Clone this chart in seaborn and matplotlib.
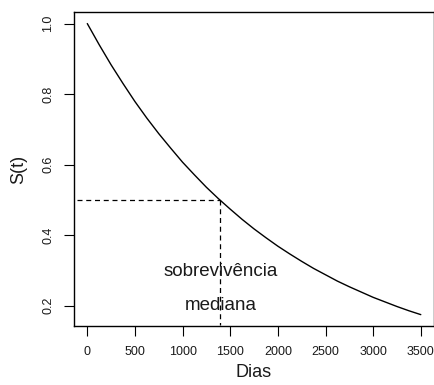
import matplotlib
matplotlib.use("Agg")
import matplotlib.pyplot as plt
import seaborn as sns
import pandas as pd

# Survival curve
dias = [0, 125, 250, 375, 500, 625, 750, 875, 1000, 1125, 1250, 1375, 1500, 1625,
        1750, 1875, 2000, 2125, 2250, 2375, 2500, 2625, 2750, 2875, 3000, 3125,
        3250, 3375, 3500]
sobrev = [1.000, 0.940, 0.883, 0.830, 0.779, 0.732, 0.688, 0.647, 0.607, 0.571,
          0.536, 0.504, 0.474, 0.445, 0.418, 0.393, 0.369, 0.347, 0.326, 0.306,
          0.288, 0.270, 0.254, 0.239, 0.224, 0.211, 0.198, 0.186, 0.175]

mediana_t = 1390
mediana_s = 0.5
x_ticks = [0, 500, 1000, 1500, 2000, 2500, 3000, 3500]
y_ticks = [0.2, 0.4, 0.6, 0.8, 1.0]
y_tick_labels = ["0.2", "0.4", "0.6", "0.8", "1.0"]
label_1 = "sobrevivência"
label_2 = "mediana"

sns.set_style("white")
plt.rcParams['font.family'] = ['Liberation Sans', 'DejaVu Sans']
plt.rcParams['text.color'] = '#1a1a1a'
plt.rcParams['axes.labelcolor'] = '#1a1a1a'
plt.rcParams['xtick.color'] = '#1a1a1a'
plt.rcParams['ytick.color'] = '#1a1a1a'

df = pd.DataFrame({"Dias": dias, "S(t)": sobrev})

fig = plt.figure(figsize=(4.35, 3.85), dpi=100)
ax = fig.add_axes([0.170, 0.153, 0.828, 0.816])

sns.lineplot(data=df, x="Dias", y="S(t)", ax=ax, color="black", linewidth=1.0)

ax.plot([-105, mediana_t], [mediana_s, mediana_s], color="black", linestyle=(0, (4, 3)), linewidth=0.9)
ax.plot([mediana_t, mediana_t], [mediana_s, 0.145], color="black", linestyle=(0, (4, 3)), linewidth=0.9)

ax.text(1400, 0.296, label_1, ha="center", va="center", fontsize=13.5)
ax.text(1400, 0.200, label_2, ha="center", va="center", fontsize=13.5)

ax.set_xlim(-140, 3640)
ax.set_ylim(0.1425, 1.033)
ax.set_xticks(x_ticks)
ax.set_xticklabels([str(v) for v in x_ticks], fontsize=9)
ax.set_yticks(y_ticks)
ax.set_yticklabels(y_tick_labels, fontsize=9, rotation=90, va="center")
ax.tick_params(axis="both", direction="out", length=7, width=0.8, color="black",
               left=True, bottom=True, pad=7)
for s in ax.spines.values():
    s.set_color("black")
    s.set_linewidth(1.0)
ax.set_xlabel("Dias", fontsize=13, labelpad=5)
ax.set_ylabel("S(t)", fontsize=13, labelpad=11)

fig.savefig("out.png", dpi=100)
